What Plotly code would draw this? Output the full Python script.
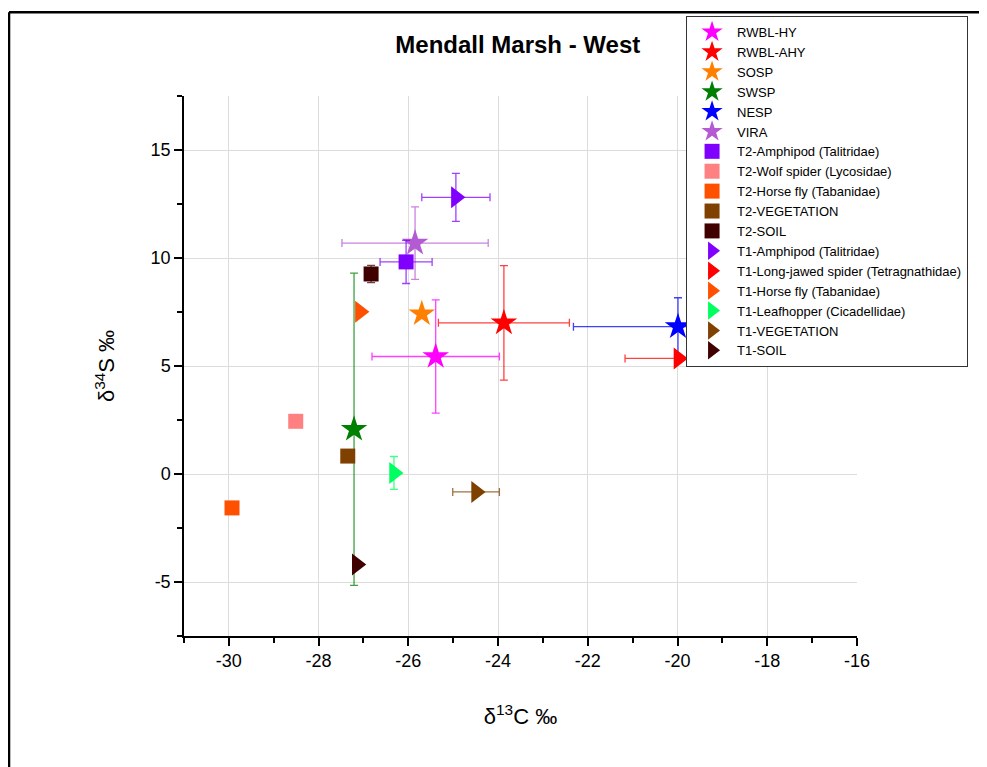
import plotly.graph_objects as go

names = ['RWBL-HY', 'RWBL-AHY', 'SOSP', 'SWSP', 'NESP', 'VIRA',
         'T2-Amphipod (Talitridae)', 'T2-Wolf spider (Lycosidae)', 'T2-Horse fly (Tabanidae)',
         'T2-VEGETATION', 'T2-SOIL',
         'T1-Amphipod (Talitridae)', 'T1-Long-jawed spider (Tetragnathidae)', 'T1-Horse fly (Tabanidae)',
         'T1-Leafhopper (Cicadellidae)', 'T1-VEGETATION', 'T1-SOIL']
d13c = [-25.39, -23.87, -25.70, -27.21, -19.99, -25.85,
        -26.05, -28.51, -29.93, -27.35, -26.83,
        -24.94, -19.98, -27.08, -26.32, -24.49, -27.15]
d34s = [5.44, 7.00, 7.42, 2.07, 6.82, 10.69,
        9.82, 2.44, -1.57, 0.83, 9.26,
        12.81, 5.35, 7.51, 0.05, -0.83, -4.19]
d13c_sd = [1.42, 1.46, 0, 0, 2.33, 1.63,
           0.58, 0, 0, 0.12, 0.10,
           0.76, 1.19, 0, 0, 0.52, 0]
d34s_sd = [2.62, 2.65, 0, 7.23, 1.34, 1.68,
           1.00, 0, 0, 0.15, 0.40,
           1.11, 0, 0, 0.76, 0, 0]

x_ticks = [-30, -28, -26, -24, -22, -20, -18, -16]
y_ticks = [-5, 0, 5, 10, 15]

colors = ['#FF00FF', '#FF0000', '#FF8000', '#008000', '#0000FF', '#B45AD2',
          '#8000FF', '#FF8080', '#FF5000', '#804000', '#400000',
          '#8000FF', '#FF0000', '#FF5000', '#00FF60', '#804000', '#400000']
symbols = ['star'] * 6 + ['square'] * 5 + ['triangle-right'] * 6
sizes = {'star': 20, 'square': 15, 'triangle-right': 19}


def fade(hex_color, a=0.75):
    h = hex_color.lstrip('#')
    r, g, b = int(h[0:2], 16), int(h[2:4], 16), int(h[4:6], 16)
    return f'rgba({r},{g},{b},{a})'


fig = go.Figure()
for i, name in enumerate(names):
    fig.add_trace(go.Scatter(
        x=[d13c[i]], y=[d34s[i]], name=name, mode='markers',
        marker=dict(symbol=symbols[i], size=sizes[symbols[i]], color=colors[i], line=dict(width=0)),
        error_x=dict(type='data', array=[d13c_sd[i]], visible=d13c_sd[i] > 0,
                     color=fade(colors[i]), thickness=1.3, width=4),
        error_y=dict(type='data', array=[d34s_sd[i]], visible=d34s_sd[i] > 0,
                     color=fade(colors[i]), thickness=1.3, width=4),
    ))

# page body has an 8px margin, so margins are trimmed by 8 to land the plot where the original sits
font = 'Arial, Liberation Sans, sans-serif'
frame = dict(color='black', width=2.5)
fig.update_layout(
    width=987, height=767,
    margin=dict(l=176, r=138, t=88, b=139, autoexpand=False),
    plot_bgcolor='white', paper_bgcolor='white',
    font=dict(family=font, color='black'),
    title=dict(text='<b>Mendall Marsh - West</b>', x=0.496, xref='paper', xanchor='center',
               y=0.952, yref='container', yanchor='middle', font=dict(size=24, color='black')),
    legend=dict(x=0.746, xanchor='left', y=0.9896, yref='container', yanchor='top',
                bgcolor='white', bordercolor='#333333', borderwidth=1, itemwidth=40,
                font=dict(size=13, family=font), itemsizing='trace'),
    shapes=[dict(type='line', xref='paper', yref='paper', x0=-0.26, x1=1.2, y0=1.155, y1=1.155, line=frame),
            dict(type='line', xref='paper', yref='paper', x0=-0.26, x1=-0.26, y0=-0.3, y1=1.155, line=frame)],
)
fig.update_xaxes(range=[-31, -16], tickvals=x_ticks, ticktext=[str(v) for v in x_ticks],
                 showline=True, linecolor='black', linewidth=1.5, automargin=False,
                 ticks='outside', ticklen=8, tickwidth=1.5, tickcolor='black',
                 minor=dict(dtick=1, tick0=-31, ticks='outside', ticklen=5, tickwidth=1.5,
                            tickcolor='black', showgrid=False),
                 showgrid=True, gridcolor='#DCDCDC', gridwidth=1, zeroline=False,
                 tickfont=dict(size=18),
                 title=dict(text='δ<sup>13</sup>C ‰', font=dict(size=22), standoff=38))
fig.update_yaxes(range=[-7.5, 17.5], tickvals=y_ticks, ticktext=[str(v) for v in y_ticks],
                 showline=True, linecolor='black', linewidth=1.5, automargin=False,
                 ticks='outside', ticklen=8, tickwidth=1.5, tickcolor='black',
                 minor=dict(dtick=2.5, tick0=-7.5, ticks='outside', ticklen=5, tickwidth=1.5,
                            tickcolor='black', showgrid=False),
                 showgrid=True, gridcolor='#DCDCDC', gridwidth=1, zeroline=False,
                 tickfont=dict(size=18),
                 title=dict(text='δ<sup>34</sup>S ‰', font=dict(size=22), standoff=30))

fig.write_html('out.html')
